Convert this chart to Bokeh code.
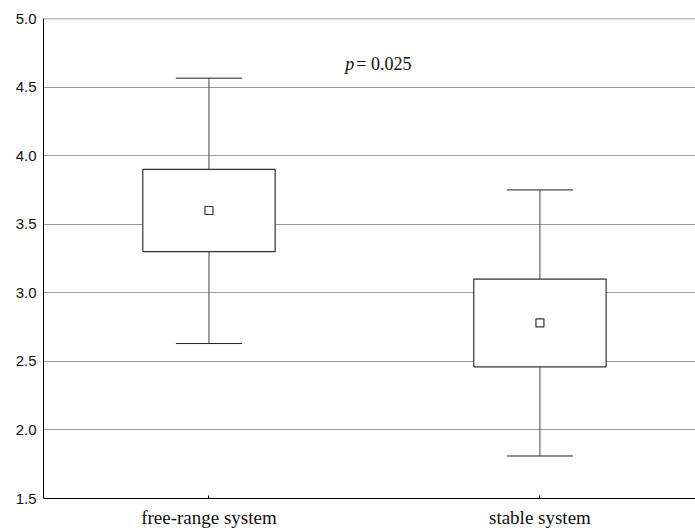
from bokeh.plotting import figure
from bokeh.models import ColumnDataSource, Range1d, FixedTicker, Span
from bokeh.core.properties import value
from bokeh.embed import file_html
from bokeh.resources import INLINE

categories = ["free-range system", "stable system"]
positions = [1, 2]
means = [3.60, 2.78]
box_low = [3.30, 2.46]
box_high = [3.90, 3.10]
whisk_low = [2.63, 1.81]
whisk_high = [4.565, 3.75]
y_ticks = [1.5, 2.0, 2.5, 3.0, 3.5, 4.0, 4.5, 5.0]
p_label_x = 1.412
p_label_y = 4.665

BOX_HALF = 0.2
CAP_HALF = 0.1

src = ColumnDataSource(dict(
    x=positions,
    left=[v - BOX_HALF for v in positions],
    right=[v + BOX_HALF for v in positions],
    cap_l=[v - CAP_HALF for v in positions],
    cap_r=[v + CAP_HALF for v in positions],
    mean=means, lo=box_low, hi=box_high, wlo=whisk_low, whi=whisk_high,
))

p = figure(width=695, height=532, output_backend="svg", toolbar_location=None,
           x_range=Range1d(0.5, 2.47), y_range=Range1d(1.5, 5.0),
           min_border_left=43, min_border_right=0, min_border_top=18, min_border_bottom=34)
p.outline_line_color = None
p.background_fill_color = "white"
p.border_fill_color = "white"

p.xgrid.visible = False
p.ygrid.ticker = FixedTicker(ticks=y_ticks)
p.ygrid.grid_line_color = "#9a9a9a"
p.ygrid.grid_line_width = 1

p.add_layout(Span(location=5.0, dimension="width", line_color="#808080", line_width=1.6))

# whiskers
p.segment(x0="x", y0="hi", x1="x", y1="whi", source=src, line_color="#444444", line_width=1)
p.segment(x0="x", y0="lo", x1="x", y1="wlo", source=src, line_color="#444444", line_width=1)
p.segment(x0="cap_l", y0="whi", x1="cap_r", y1="whi", source=src, line_color="#222222", line_width=1)
p.segment(x0="cap_l", y0="wlo", x1="cap_r", y1="wlo", source=src, line_color="#222222", line_width=1)
# boxes
p.quad(left="left", right="right", bottom="lo", top="hi", source=src,
       fill_color="white", line_color="#333333", line_width=1.2)
# means
p.scatter(x="x", y="mean", source=src, marker="square", size=8,
          fill_color="white", line_color="#333333", line_width=1.2)

# p-value annotation
p.text(x=[p_label_x], y=[p_label_y], text=["p"], text_font=value("Liberation Serif"),
       text_font_style="italic", text_font_size="18px", text_align="left",
       text_baseline="middle", text_color="#111111")
p.text(x=[p_label_x], y=[p_label_y], text=["= 0.025"], x_offset=11,
       text_font=value("Liberation Serif"), text_font_size="18px", text_align="left",
       text_baseline="middle", text_color="#111111")

# axes
p.xaxis.ticker = FixedTicker(ticks=positions)
p.xaxis.major_label_overrides = {pos: c for pos, c in zip(positions, categories)}
p.xaxis.major_label_text_font = "Liberation Serif"
p.xaxis.major_label_text_font_size = "19px"
p.xaxis.major_label_text_color = "#111111"
p.xaxis.major_tick_in = 3
p.xaxis.major_tick_out = 0
p.xaxis.minor_tick_line_color = None
p.xaxis.axis_line_color = "black"
p.xaxis.major_label_standoff = 8

p.yaxis.ticker = FixedTicker(ticks=y_ticks)
p.yaxis.major_label_overrides = {t: f"{t:.1f}" for t in y_ticks}
p.yaxis.major_label_text_font = "Liberation Sans"
p.yaxis.major_label_text_font_size = "15px"
p.yaxis.major_label_text_color = "#111111"
p.yaxis.major_tick_in = 0
p.yaxis.major_tick_out = 0
p.yaxis.minor_tick_line_color = None
p.yaxis.axis_line_color = "black"
p.yaxis.major_label_standoff = 7

open("out.html", "w").write(file_html(p, INLINE))
